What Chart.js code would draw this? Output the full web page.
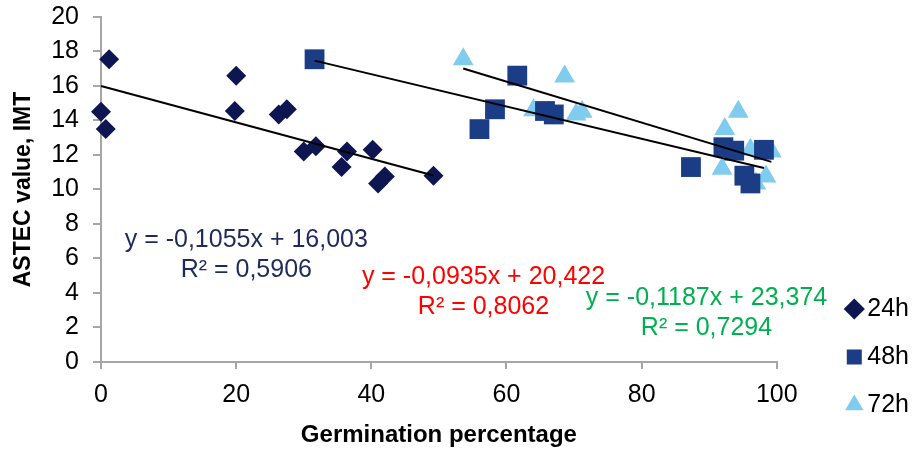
<!DOCTYPE html>
<html><head><meta charset="utf-8">
<script src="https://cdn.jsdelivr.net/npm/chart.js@4/dist/chart.umd.min.js"></script>
<style>html,body{margin:0;padding:0;background:#fff}#wrap{width:919px;height:449px}</style>
</head><body><div id="wrap"><canvas id="c"></canvas></div>
<script>
const seriesNames = ['24h', '48h', '72h'];
const germ24  = [1.2, 0, 0.7, 20, 19.8, 26.3, 27.5, 30, 31.8, 35.6, 36.4, 40.2, 41, 42, 49.2];
const astec24 = [17.55, 14.5, 13.5, 16.6, 14.55, 14.35, 14.65, 12.2, 12.5, 11.3, 12.2, 12.3, 10.35, 10.75, 10.8];
const germ48  = [31.6, 61.6, 58.3, 56.0, 65.7, 67.0, 87.3, 92.1, 93.7, 98.1, 95.2, 96.1];
const astec48 = [17.55, 16.6, 14.65, 13.5, 14.55, 14.35, 11.3, 12.45, 12.25, 12.3, 10.8, 10.35];
const germ72  = [53.6, 68.6, 64.0, 71.2, 70.3, 94.3, 92.3, 96.1, 99.2, 91.9, 98.4, 96.9];
const astec72 = [17.55, 16.55, 14.6, 14.5, 14.35, 14.5, 13.5, 12.3, 12.2, 11.2, 10.75, 10.35];
// trendline end points (x range of each series)
const trendX24 = [0, 49.2],  trendY24 = [16.003, 10.81];
const trendX48 = [31.6, 98.1], trendY48 = [17.47, 11.25];
const trendX72 = [53.6, 99.2], trendY72 = [17.01, 11.60];
const eqTexts = [
  ['y = -0,1055x + 16,003', 'R² = 0,5906'],
  ['y = -0,0935x + 20,422', 'R² = 0,8062'],
  ['y = -0,1187x + 23,374', 'R² = 0,7294']
];
const eqAnchorX = [21.5, 56.6, 89.6];
const eqAnchorY = [7.05, 4.9, 3.69];
const xTicks = [0, 20, 40, 60, 80, 100];
const yTicks = [0, 2, 4, 6, 8, 10, 12, 14, 16, 18, 20];

const colors = ['#0d1650', '#1b3d86', '#80ccef'];
const eqColors = ['#1f2a5c', '#ff0000', '#00b050'];
const FONT = "'Liberation Sans', Arial, sans-serif";

const pts = (xs, ys) => xs.map((x, i) => ({x, y: ys[i]}));

const trend = (xs, ys) => ({
  type: 'line', label: 'trend', data: pts(xs, ys), borderColor: '#000', borderWidth: 2,
  pointRadius: 0, fill: false, showLine: true, clip: false
});

const eqPlugin = {
  id: 'eqLabels',
  afterDatasetsDraw(chart) {
    const {ctx, scales: {x, y}} = chart;
    ctx.save();
    ctx.font = "25px " + FONT;
    ctx.textAlign = 'center';
    ctx.textBaseline = 'middle';
    eqTexts.forEach((lines, i) => {
      ctx.fillStyle = eqColors[i];
      const px = x.getPixelForValue(eqAnchorX[i]);
      const py = y.getPixelForValue(eqAnchorY[i]);
      lines.forEach((t, j) => ctx.fillText(t, px, py + j * 30));
    });
    ctx.restore();
  }
};

new Chart(document.getElementById('c'), {
  type: 'scatter',
  data: {
    datasets: [
      trend(trendX24, trendY24),
      trend(trendX48, trendY48),
      trend(trendX72, trendY72),
      {label: seriesNames[0], data: pts(germ24, astec24), pointStyle: 'rectRot', pointRadius: 10, pointHoverRadius: 10,
       backgroundColor: colors[0], borderColor: colors[0], borderWidth: 0, clip: false},
      {label: seriesNames[1], data: pts(germ48, astec48), pointStyle: 'rect', pointRadius: 14, pointHoverRadius: 14,
       backgroundColor: colors[1], borderColor: colors[1], borderWidth: 0, clip: false},
      {label: seriesNames[2], data: pts(germ72, astec72), pointStyle: 'triangle', pointRadius: 12, pointHoverRadius: 12,
       backgroundColor: colors[2], borderColor: colors[2], borderWidth: 0, clip: false}
    ]
  },
  options: {
    responsive: true, maintainAspectRatio: false, animation: false,
    layout: {autoPadding: false, padding: {top: 0, bottom: 8.5, left: 0, right: 0}},
    plugins: {
      tooltip: {enabled: false},
      legend: {
        position: 'right', align: 'end',
        labels: {
          usePointStyle: true, boxWidth: 1, boxHeight: 15, padding: 23,
          font: {size: 25, family: FONT}, color: '#000',
          filter: (item) => item.text !== 'trend'
        }
      }
    },
    scales: {
      x: {
        type: 'linear', min: 0, max: 100,
        afterBuildTicks: (s) => { s.ticks = xTicks.map(v => ({value: v})); },
        border: {color: '#a6a6a6', width: 2},
        grid: {display: true, drawOnChartArea: false, drawTicks: true, tickLength: 7, color: '#a6a6a6', lineWidth: 2},
        ticks: {padding: 11, autoSkip: false, maxRotation: 0, color: '#000', font: {size: 25, family: FONT}},
        title: {display: true, text: 'Germination percentage', color: '#000',
                font: {size: 24, weight: 'bold', family: FONT, lineHeight: 0.46},
                padding: {top: 8.5, bottom: 0}}
      },
      y: {
        type: 'linear', min: 0, max: 20,
        afterBuildTicks: (s) => { s.ticks = yTicks.map(v => ({value: v})); },
        afterFit: (s) => { s.paddingTop = 17; s.paddingBottom = 15; },
        border: {color: '#a6a6a6', width: 2},
        grid: {display: true, drawOnChartArea: false, drawTicks: true, tickLength: 8, color: '#a6a6a6', lineWidth: 2},
        ticks: {padding: 14, autoSkip: false, color: '#000', font: {size: 25, family: FONT}},
        title: {display: true, text: 'ASTEC value, IMT', color: '#000',
                font: {size: 23, weight: 'bold', family: FONT},
                padding: {top: 9.6, bottom: 0}}
      },
      gap: {
        type: 'linear', position: 'right', display: true,
        grid: {display: false}, border: {display: false}, ticks: {display: false},
        afterFit: (s) => { s.width = 54; }
      }
    }
  },
  plugins: [eqPlugin]
});
</script></body></html>
